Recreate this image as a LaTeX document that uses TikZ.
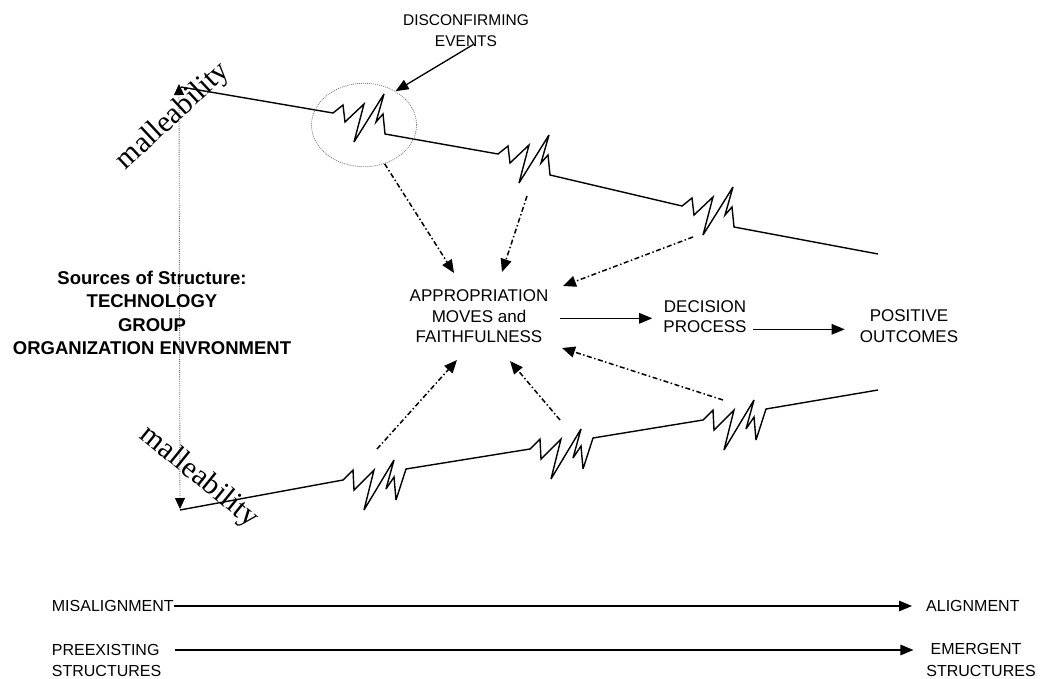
\documentclass[tikz,border=0pt]{standalone}
\usepackage{fontspec}
\setmainfont{Liberation Sans}
\newfontfamily\romanface{Liberation Serif}
\usetikzlibrary{arrows.meta,shapes.geometric,calc}

\begin{document}
\begin{tikzpicture}[x=1pt,y=-1pt,
  solidline/.style={line width=1.4pt, line join=miter, miter limit=5},
  flowarrow/.style={line width=1.3pt, -{Triangle[length=13pt,width=10.5pt]}},
  ddarrow/.style={line width=1.5pt, dash pattern=on 5pt off 2.5pt on 1.5pt off 2.5pt,
                  -{Triangle[length=13pt,width=11pt]}},
  vdots/.style={draw=black!60, line width=0.9pt, dash pattern=on 1pt off 1.2pt,
                {Triangle[length=11pt,width=10pt,color=black]}-{Triangle[length=11pt,width=10pt,color=black]}},
  ringstyle/.style={draw=black!50, line width=0.8pt, dash pattern=on 1pt off 1pt,
                    ellipse, inner sep=0pt},
  caps/.style={font=\fontsize{17}{20.4}\selectfont, align=center, inner sep=0pt},
  small/.style={font=\fontsize{16}{20}\selectfont, inner sep=0pt},
  mall/.style={font=\romanface\fontsize{30}{32}\selectfont, inner sep=0pt},
  topzig/.style={insert path={-- +(10,-8) -- +(12,9) -- +(31,-9) -- +(21,29)
                 -- +(51,-19) -- +(43,9) -- +(50,1) -- +(52,21)}},
  botzig/.style={insert path={-- +(10,-10) -- +(11,10) -- +(31,-10) -- +(21,30)
                 -- +(51,-20) -- +(43,9) -- +(51,-3) -- +(53,20) -- +(63,-11)}},
]
\useasboundingbox (0,0) rectangle (1048,679);

% end points of the two structure lines and the starts of the breaks
\coordinate (ttip) at (179,84);
\coordinate (btip) at (180,509);
\coordinate (tstart) at (181,87);
\coordinate (tz1) at (333,113);
\coordinate (tz2) at (498,154);
\coordinate (tz3) at (682,206);
\coordinate (tend) at (878,254);
\coordinate (bstart) at (180,510);
\coordinate (bz1) at (343,480);
\coordinate (bz2) at (530,449);
\coordinate (bz3) at (703,420);
\coordinate (bend) at (878,390);

% vertical malleability range
\draw[vdots] (ttip) -- (btip);

% upper structure line with its breaks
\draw[solidline] (tstart) -- (tz1) [topzig] -- (tz2) [topzig] -- (tz3) [topzig] -- (tend);
% lower structure line with its breaks
\draw[solidline] (bstart) -- (bz1) [botzig] -- (bz2) [botzig] -- (bz3) [botzig] -- (bend);

% ring round the first break
\node[ringstyle, minimum width=105pt, minimum height=83.4pt] (ring) at (364,125) {};

% labels
\node[caps, font=\fontsize{15.5}{21}\selectfont] (dis) at (466,30.5) {DISCONFIRMING\\EVENTS};
\node[mall, rotate=43] (mtop) at (173.5,116.5) {malleability};
\node[mall, rotate=-39] (mbot) at (198.7,477) {malleability};
\node[align=center, inner sep=0pt, font=\bfseries\fontsize{18.5}{23.3}\selectfont] (src) at (152,313)
  {Sources of Structure:\\TECHNOLOGY\\GROUP\\ORGANIZATION ENVRONMENT};
\node[caps] (app) at (479,316.3) {APPROPRIATION\\MOVES and\\FAITHFULNESS};
\node[caps, font=\fontsize{17}{20}\selectfont] (dec) at (705,316.7) {DECISION\\PROCESS};
\node[caps, font=\fontsize{17}{21}\selectfont] (pos) at (909,326.5) {POSITIVE\\OUTCOMES};

\node[small, anchor=west] (mis) at (51.7,606) {MISALIGNMENT};
\node[small, anchor=west] (ali) at (926,606) {ALIGNMENT};
\node[small, anchor=west] (pre1) at (51.7,650) {PREEXISTING};
\node[small, anchor=west] (pre2) at (51.7,670.5) {STRUCTURES};
\node[small] (emg1) at (976,649) {EMERGENT};
\node[small] (emg2) at (981,670.5) {STRUCTURES};

% disconfirming events hit the first break
\draw[flowarrow] ($(dis.south)+(7,-2)$) -- (ring.47);

% breaks feed appropriation
\draw[ddarrow] (ring.-62) -- ($(app)+(-25,-43.3)$);
\draw[ddarrow] ($(tz2)+(29,42)$) -- ($(app)+(23,-44.3)$);
\draw[ddarrow] ($(tz3)+(11,31)$) -- ($(app)+(84,-30.3)$);
\draw[ddarrow] ($(bz3)+(20,-20)$) -- ($(app)+(83,31.7)$);
\draw[ddarrow] ($(bz2)+(30,-29)$) -- ($(app)+(31,44.7)$);
\draw[ddarrow] ($(bz1)+(34,-31)$) -- ($(app)+(-22,43.7)$);

% main process chain
\draw[flowarrow] ($(app.east)+(12,2)$) -- ($(dec.west)+(-11,1.6)$);
\draw[flowarrow] ($(dec.east)+(6,12.6)$) -- ($(pos.west |- dec.east)+(-15,12.6)$);

% bottom continua
\draw[flowarrow] (mis.east) -- ($(ali.west)+(-14,0)$);
\draw[flowarrow] ($(pre1.east)+(15,0)$) -- ($(pre1.east -| emg1.west)+(-17,0)$);
\end{tikzpicture}
\end{document}
